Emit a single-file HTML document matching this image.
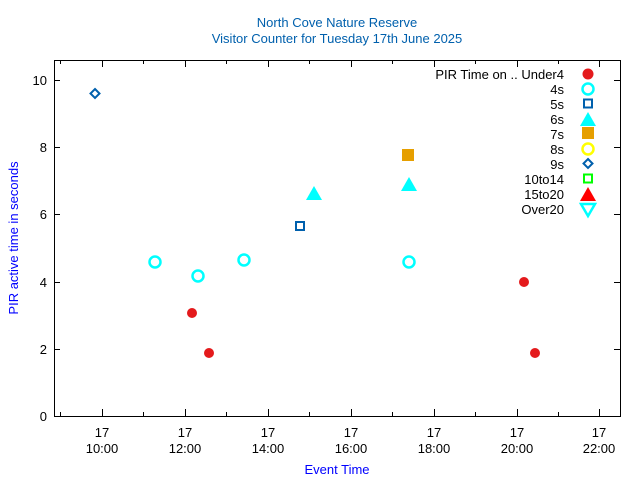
<!DOCTYPE html>
<html><head><style>body{margin:0;background:#fff}svg{display:block}</style></head><body>
<svg width="640" height="480" xmlns="http://www.w3.org/2000/svg" font-family="Liberation Sans, sans-serif" font-size="13">
<rect width="640" height="480" fill="#fff"/>
<text x="337" y="27" text-anchor="middle" fill="#0060ad">North Cove Nature Reserve</text>
<text x="337" y="43" text-anchor="middle" fill="#0060ad">Visitor Counter for Tuesday 17th June 2025</text>
<rect x="54.5" y="60.5" width="566" height="356" fill="none" stroke="#000" stroke-width="1"/>
<g stroke="#000" stroke-width="1">
<path d="M54 416.5h6M54 349.5h6M54 282.5h6M54 214.5h6M54 147.5h6M54 80.5h6M620 416.5h-6M620 349.5h-6M620 282.5h-6M620 214.5h-6M620 147.5h-6M620 80.5h-6"/>
<path d="M102.5 416v-7M185.5 416v-7M268.5 416v-7M351.5 416v-7M434.5 416v-7M517.5 416v-7M599.5 416v-7M102.5 60v7M185.5 60v7M268.5 60v7M351.5 60v7M434.5 60v7M517.5 60v7M599.5 60v7"/>
<path d="M60.5 416v-4M143.5 416v-4M226.5 416v-4M309.5 416v-4M392.5 416v-4M475.5 416v-4M558.5 416v-4M60.5 60v4M143.5 60v4M226.5 60v4M309.5 60v4M392.5 60v4M475.5 60v4M558.5 60v4"/>
</g>
<g text-anchor="end">
<text x="47" y="421">0</text><text x="47" y="354">2</text><text x="47" y="287">4</text><text x="47" y="219">6</text><text x="47" y="152">8</text><text x="47" y="85">10</text>
</g>
<g text-anchor="middle">
<text x="102" y="437">17</text><text x="102" y="453">10:00</text>
<text x="185" y="437">17</text><text x="185" y="453">12:00</text>
<text x="268" y="437">17</text><text x="268" y="453">14:00</text>
<text x="351" y="437">17</text><text x="351" y="453">16:00</text>
<text x="434" y="437">17</text><text x="434" y="453">18:00</text>
<text x="517" y="437">17</text><text x="517" y="453">20:00</text>
<text x="599" y="437">17</text><text x="599" y="453">22:00</text>
<text x="337" y="474" fill="#0000ff">Event Time</text>
</g>
<text transform="translate(18,238) rotate(-90)" text-anchor="middle" fill="#0000ff">PIR active time in seconds</text>
<g text-anchor="end">
<text x="564" y="79">PIR Time on .. Under4</text>
<text x="564" y="94">4s</text><text x="564" y="109">5s</text><text x="564" y="124">6s</text><text x="564" y="139">7s</text><text x="564" y="154">8s</text><text x="564" y="169">9s</text><text x="564" y="184">10to14</text><text x="564" y="199">15to20</text><text x="564" y="214">Over20</text>
</g>
<circle cx="588" cy="74" r="5.5" fill="#e41a1c"/>
<circle cx="588" cy="89" r="5.5" fill="none" stroke="#00ffff" stroke-width="2.5"/>
<rect x="584" y="99.5" width="8" height="8" fill="none" stroke="#0060ad" stroke-width="2"/>
<polygon points="588,112 596,126 580,126" fill="#00ffff"/>
<rect x="582" y="127" width="12" height="12" fill="#e69f00"/>
<circle cx="588" cy="149" r="5.5" fill="none" stroke="#ffff00" stroke-width="2.5"/>
<polygon points="588,159 592.5,163.5 588,168 583.5,163.5" fill="none" stroke="#0060ad" stroke-width="2"/>
<rect x="584" y="174.5" width="8" height="8" fill="none" stroke="#00ff00" stroke-width="2"/>
<polygon points="588,187 596,201 580,201" fill="#ff0000"/>
<polygon points="581,204 595,204 588,216" fill="none" stroke="#00ffff" stroke-width="2.5"/>
<g fill="#e41a1c">
<circle cx="192" cy="313" r="5"/><circle cx="209" cy="353" r="5"/><circle cx="524" cy="282" r="5"/><circle cx="535" cy="353" r="5"/>
</g>
<g fill="none" stroke="#00ffff" stroke-width="2.5">
<circle cx="155" cy="262" r="5.5"/><circle cx="198" cy="276" r="5.5"/><circle cx="244" cy="260" r="5.5"/><circle cx="409" cy="262" r="5.5"/>
</g>
<rect x="296" y="222" width="8" height="8" fill="none" stroke="#0060ad" stroke-width="2"/>
<polygon points="314,186 322,200 306,200" fill="#00ffff"/>
<polygon points="409,177 417,191 401,191" fill="#00ffff"/>
<rect x="402" y="149" width="12" height="12" fill="#e69f00"/>
<polygon points="95,89 99.5,93.5 95,98 90.5,93.5" fill="none" stroke="#0060ad" stroke-width="2"/>
</svg>
</body></html>
